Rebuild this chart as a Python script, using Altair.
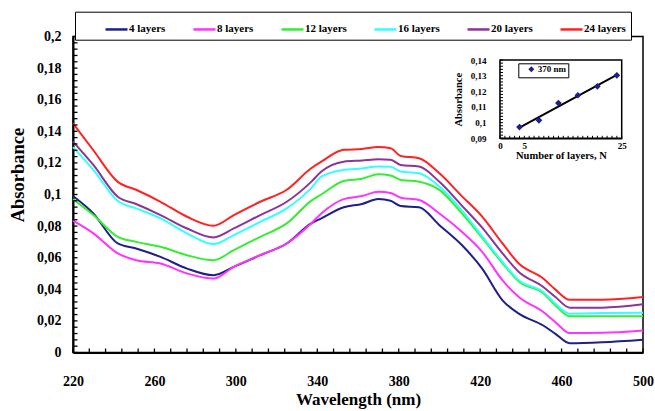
import altair as alt
import pandas as pd

# ---------------- data ----------------
wavelength = [220, 230, 242, 251, 263, 276, 289, 299, 312, 325, 337, 342, 353, 362,
              370, 376, 381, 390, 400, 411, 421, 431, 439, 451, 457, 464, 480, 500]
abs_4 = [0.099, 0.088, 0.069, 0.0658, 0.0605, 0.0531, 0.0489, 0.0542, 0.0616, 0.069, 0.0817, 0.0849, 0.0919, 0.094,
         0.0971, 0.096, 0.0927, 0.0919, 0.0806, 0.068, 0.0531, 0.033, 0.0246, 0.0171, 0.0118, 0.0059, 0.0065, 0.0081]
abs_8 = [0.0834, 0.0754, 0.0627, 0.0584, 0.0563, 0.050, 0.0468, 0.0542, 0.0616, 0.069, 0.0817, 0.088, 0.0971, 0.099,
         0.1018, 0.101, 0.098, 0.0965, 0.088, 0.0764, 0.0637, 0.0457, 0.0351, 0.0256, 0.0192, 0.0123, 0.0125, 0.014]
abs_12 = [0.097, 0.087, 0.0732, 0.070, 0.0669, 0.0616, 0.0584, 0.0648, 0.0732, 0.0817, 0.096, 0.100, 0.1086, 0.110,
          0.1128, 0.112, 0.1092, 0.1081, 0.1029, 0.088, 0.0725, 0.0565, 0.045, 0.0375, 0.0298, 0.0229, 0.0229, 0.023]
abs_16 = [0.130, 0.1156, 0.0959, 0.0912, 0.0849, 0.0754, 0.0686, 0.0743, 0.0827, 0.0912, 0.104, 0.1113, 0.1156, 0.1165,
          0.1177, 0.1175, 0.1145, 0.1134, 0.105, 0.090, 0.0735, 0.0573, 0.0457, 0.0383, 0.0309, 0.0246, 0.025, 0.0252]
abs_20 = [0.1335, 0.1187, 0.0986, 0.094, 0.087, 0.0785, 0.0728, 0.0785, 0.087, 0.0954, 0.108, 0.1145, 0.1208, 0.1215,
          0.1223, 0.122, 0.1187, 0.1177, 0.108, 0.093, 0.079, 0.0627, 0.051, 0.0415, 0.0351, 0.0284, 0.0284, 0.0305]
abs_24 = [0.145, 0.128, 0.108, 0.103, 0.0954, 0.0859, 0.0802, 0.087, 0.0954, 0.103, 0.1166, 0.1208, 0.1283, 0.1288,
          0.130, 0.1293, 0.1244, 0.123, 0.1134, 0.099, 0.086, 0.069, 0.0563, 0.0468, 0.0398, 0.0334, 0.0334, 0.0351]

series_names = ["4 layers", "8 layers", "12 layers", "16 layers", "20 layers", "24 layers"]
series_colors = ["#1f1f8c", "#ff33ff", "#33ee33", "#33ffff", "#8e3399", "#ff2222"]
series_values = [abs_4, abs_8, abs_12, abs_16, abs_20, abs_24]

x_label_values = [220, 260, 300, 340, 380, 420, 460, 500]
x_minor_ticks = [220, 228, 236, 244, 252, 260, 268, 276, 284, 292, 300, 308, 316, 324, 332, 340, 348, 356,
                 364, 372, 380, 388, 396, 404, 412, 420, 428, 436, 444, 452, 460, 468, 476, 484, 492, 500]
y_label_values = [0, 0.02, 0.04, 0.06, 0.08, 0.1, 0.12, 0.14, 0.16, 0.18, 0.2]
y_minor_ticks = [round(i * 0.004, 3) for i in range(51)]

# inset
inset_layers = [4, 8, 12, 16, 20, 24]
inset_abs = [0.0972, 0.1015, 0.1125, 0.1175, 0.1232, 0.1302]
inset_label = "370 nm"
inset_y_values = [0.09, 0.1, 0.11, 0.12, 0.13, 0.14]
inset_x_values = [0, 5, 25]
inset_y_ticks = [round(0.09 + i * 0.002, 3) for i in range(26)]
inset_x_ticks = list(range(0, 26))

# ---------------- layout ----------------
FONT = "Liberation Serif"
W, H = 570, 316
comma_fmt = "replace(format(datum.value, '.2~f'), '.', ',')"

rows = []
for name, vals in zip(series_names, series_values):
    for w, a in zip(wavelength, vals):
        rows.append({"wl": w, "A": a, "series": name})
df = pd.DataFrame(rows)

xs = alt.Scale(domain=[220, 500], nice=False, zero=False)
ys = alt.Scale(domain=[0, 0.2], nice=False)

x_axis = alt.Axis(orient="bottom", values=x_label_values, title="Wavelength (nm)", ticks=False, grid=False,
                  domainColor="black", domainWidth=2, labelFlush=False, labelOverlap=False,
                  labelFont=FONT, labelFontSize=14, labelFontWeight="bold", labelColor="black", labelPadding=22,
                  titleFont=FONT, titleFontSize=17, titleFontWeight="bold", titleColor="black", titlePadding=3)
y_axis = alt.Axis(orient="left", values=y_label_values, title="Absorbance", ticks=False, grid=False,
                  domainColor="black", domainWidth=2, labelExpr=comma_fmt, labelOverlap=False, labelFlush=False,
                  labelFont=FONT, labelFontSize=14, labelFontWeight="bold", labelColor="black", labelPadding=12,
                  titleFont=FONT, titleFontSize=18.5, titleFontWeight="bold", titleColor="black",
                  titlePadding=9, titleY=138)

legend_main = alt.Legend(orient="none", legendX=2, legendY=-24.8, direction="horizontal", columns=6,
                         title=None, symbolType="stroke", symbolSize=484, symbolStrokeWidth=2.5,
                         symbolOffset=24, labelOffset=0, columnPadding=2, padding=5,
                         strokeColor="black", fillColor="white",
                         labelFont=FONT, labelFontSize=11, labelFontWeight="bold", labelColor="black")

lines = alt.Chart(df).mark_line(strokeWidth=2, interpolate="monotone").encode(
    x=alt.X("wl:Q", scale=xs, axis=x_axis),
    y=alt.Y("A:Q", scale=ys, axis=y_axis),
    color=alt.Color("series:N", scale=alt.Scale(domain=series_names, range=series_colors),
                    sort=series_names, legend=legend_main),
)

xt = alt.Chart(pd.DataFrame({"wl": x_minor_ticks})).mark_rule(color="black", strokeWidth=1.3).encode(
    x=alt.X("wl:Q", scale=xs, axis=x_axis), y=alt.value(H), y2=alt.value(H - 4))
yt = alt.Chart(pd.DataFrame({"A": y_minor_ticks})).mark_rule(color="black", strokeWidth=1.3).encode(
    y=alt.Y("A:Q", scale=ys, axis=y_axis), x=alt.value(0), x2=alt.value(4.5))

main = alt.layer(lines, xt, yt)

# ---------------- inset ----------------
IX0, IX1 = 427, 548.7
IY0, IY1 = 101.8, 23.5
ixs = alt.Scale(domain=[0, 25], nice=False, zero=False, range=[IX0, IX1])
iys = alt.Scale(domain=[0.09, 0.14], nice=False, zero=False, range=[IY0, IY1])

ix_axis = alt.Axis(orient="bottom", offset=-(H - IY0), values=inset_x_values, ticks=False, grid=False,
                   domainColor="black", domainWidth=1.5, labelFlush=False, labelOverlap=False,
                   labelFont=FONT, labelFontSize=9, labelFontWeight="bold", labelColor="black", labelPadding=3,
                   title="Number of layers, N", titleFont=FONT, titleFontSize=10.5, titleFontWeight="bold",
                   titleColor="black", titlePadding=0)
iy_axis = alt.Axis(orient="left", offset=-IX0, values=inset_y_values, ticks=False, grid=False,
                   domainColor="black", domainWidth=1.5, labelExpr=comma_fmt, labelOverlap=False, labelFlush=False,
                   labelFont=FONT, labelFontSize=9, labelFontWeight="bold", labelColor="black", labelPadding=14,
                   title="Absorbance", titleFont=FONT, titleFontSize=10.5, titleFontWeight="bold",
                   titleColor="black", titlePadding=7)

inset_df = pd.DataFrame({"N": inset_layers, "A370": inset_abs, "lbl": [inset_label] * len(inset_layers)})

frame = alt.Chart(pd.DataFrame({"N": [0], "N2": [25], "A370": [0.09], "A2": [0.14]})).mark_rect(
    fill="white", stroke="black", strokeWidth=1.5).encode(
    x=alt.X("N:Q", scale=ixs, axis=ix_axis), x2="N2:Q",
    y=alt.Y("A370:Q", scale=iys, axis=iy_axis), y2="A2:Q")

ixt = alt.Chart(pd.DataFrame({"N": inset_x_ticks})).mark_rule(color="black", strokeWidth=1).encode(
    x=alt.X("N:Q", scale=ixs, axis=ix_axis), y=alt.value(IY0), y2=alt.value(IY0 - 2.5))
iyt = alt.Chart(pd.DataFrame({"A370": inset_y_ticks})).mark_rule(color="black", strokeWidth=1).encode(
    y=alt.Y("A370:Q", scale=iys, axis=iy_axis), x=alt.value(IX0), x2=alt.value(IX0 + 3))

fit = alt.Chart(inset_df).transform_regression("N", "A370").mark_line(color="black", strokeWidth=2).encode(
    x=alt.X("N:Q", scale=ixs, axis=ix_axis), y=alt.Y("A370:Q", scale=iys, axis=iy_axis))

legend_inset = alt.Legend(orient="none", legendX=445.3, legendY=26.8, title=None, padding=1.5,
                          strokeColor="black", fillColor="white", symbolSize=36, symbolOffset=7,
                          symbolFillColor="#1f1f8c", symbolStrokeColor="#1f1f8c", labelOffset=2,
                          labelFont=FONT, labelFontSize=9, labelFontWeight="bold", labelColor="black")

pts = alt.Chart(inset_df).mark_point(filled=True, size=45, color="#1f1f8c", opacity=1).encode(
    x=alt.X("N:Q", scale=ixs, axis=ix_axis), y=alt.Y("A370:Q", scale=iys, axis=iy_axis),
    shape=alt.Shape("lbl:N", scale=alt.Scale(domain=[inset_label], range=["diamond"]), legend=legend_inset))

inset = alt.layer(frame, ixt, iyt, fit, pts)

chart = alt.layer(main, inset).resolve_scale(x="independent", y="independent").properties(
    width=W, height=H,
    padding={"left": 73, "top": 36.5, "right": 12, "bottom": 58.5},
    autosize=alt.AutoSizeParams(type="none"),
    background="white",
).configure_view(stroke="black", strokeWidth=1.5)

chart.save("out.html", embed_options={"renderer": "svg", "actions": False})
